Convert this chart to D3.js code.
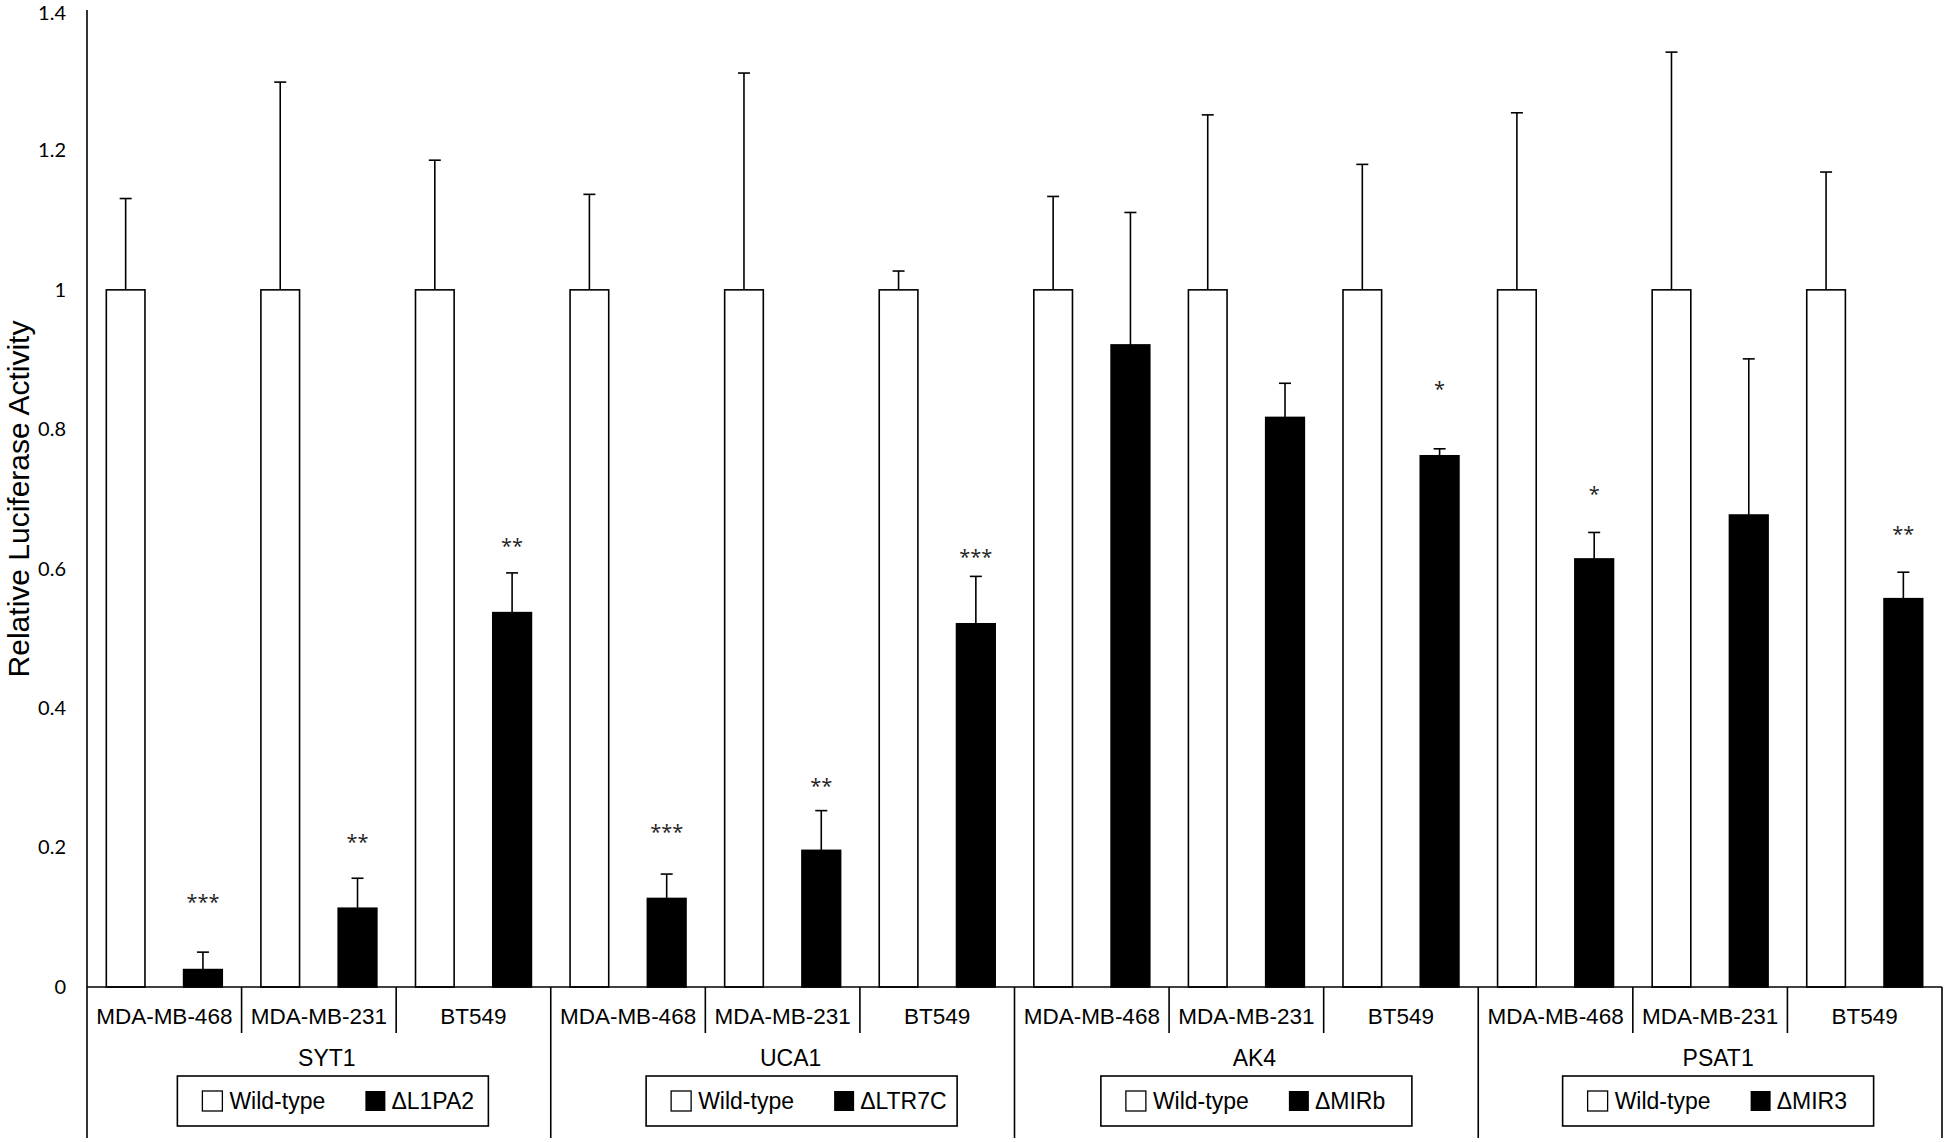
<!DOCTYPE html>
<html>
<head>
<meta charset="utf-8">
<script src="https://cdn.jsdelivr.net/npm/d3@7"></script>
<style>
  body { margin: 0; background: #fff; }
  svg { display: block; }
</style>
</head>
<body>
<svg id="chart" width="1946" height="1142"></svg>
<script>
// data
const genes = ['SYT1', 'UCA1', 'AK4', 'PSAT1'];
const cellLines = ['MDA-MB-468', 'MDA-MB-231', 'BT549'];
const deletions = ['\u0394L1PA2', '\u0394LTR7C', '\u0394MIRb', '\u0394MIR3'];
const wtMean = [1, 1, 1, 1, 1, 1, 1, 1, 1, 1, 1, 1];
const wtErr = [0.131, 0.298, 0.186, 0.137, 0.311, 0.027, 0.134, 0.251, 0.180, 0.254, 0.341, 0.169];
const delMean = [0.025, 0.113, 0.537, 0.127, 0.196, 0.521, 0.921, 0.817, 0.762, 0.614, 0.677, 0.557];
const delErr = [0.025, 0.043, 0.057, 0.035, 0.057, 0.068, 0.190, 0.049, 0.010, 0.038, 0.224, 0.038];
const sig = ['***', '**', '**', '***', '**', '***', '', '', '*', '*', '', '**'];
const sigLevel = [0.126, 0.212, 0.637, 0.227, 0.293, 0.621, null, null, 0.862, 0.712, null, 0.654];
const yTicks = [0, 0.2, 0.4, 0.6, 0.8, 1, 1.2, 1.4];

const svg = d3.select('#chart');
const left = 87, right = 1942, zeroY = 987, topY = 11, bottomY = 1138;
const sans = '"Liberation Sans", Arial, sans-serif';
const tickFont = 'Lato, "Open Sans", sans-serif';
// each gene panel had its own legend, not quite centred under it
const legendShift = [14, 19, 10, 8];

// one row per gene x cell line
const rows = d3.range(genes.length * cellLines.length).map(i => ({
	i: i,
	gene: Math.floor(i / cellLines.length),
	cell: cellLines[i % cellLines.length],
	wt: wtMean[i], wtE: wtErr[i],
	del: delMean[i], delE: delErr[i],
	sig: sig[i], sigY: sigLevel[i]
}));

const x0 = d3.scaleBand().domain(rows.map(d => d.i)).range([left, right]);
const x1 = d3.scaleBand().domain(['wt', 'del']).range([0, x0.bandwidth()])
	.paddingInner(0.5).paddingOuter(0.25);
const y = d3.scaleLinear().domain([0, 1.4]).range([zeroY, topY]);

// y axis labels (no ticks, no domain)
const yAxis = svg.append('g')
	.attr('transform', 'translate(' + left + ',0)')
	.call(d3.axisLeft(y).tickValues(yTicks).tickSize(0).tickPadding(21)
		.tickFormat(d => String(+d.toFixed(1))));
yAxis.select('.domain').remove();
yAxis.selectAll('text')
	.attr('font-family', tickFont)
	.attr('font-size', 20)
	.attr('fill', '#000');
// keep the top label inside the frame
yAxis.selectAll('.tick').filter(d => d === 1.4).select('text').attr('dy', '0.42em');

svg.append('text')
	.attr('transform', 'translate(18,' + ((zeroY + topY) / 2) + ') rotate(-90)')
	.attr('text-anchor', 'middle')
	.attr('dy', '0.35em')
	.attr('font-family', sans)
	.attr('font-size', 30)
	.text('Relative Luciferase Activity');

// bars
const cat = svg.append('g').selectAll('g')
	.data(rows)
	.enter().append('g')
		.attr('transform', d => 'translate(' + x0(d.i) + ',0)');

const bw = x1.bandwidth();

function errBar(sel, key, mean, err) {
	const cx = x1(key) + bw / 2;
	sel.append('line')
		.attr('x1', cx).attr('x2', cx)
		.attr('y1', d => y(d[mean])).attr('y2', d => y(d[mean] + d[err]))
		.attr('stroke', '#000').attr('stroke-width', 1.6);
	sel.append('line')
		.attr('x1', cx - 6).attr('x2', cx + 6)
		.attr('y1', d => y(d[mean] + d[err])).attr('y2', d => y(d[mean] + d[err]))
		.attr('stroke', '#000').attr('stroke-width', 1.6);
}

cat.append('rect')
	.attr('x', x1('wt')).attr('width', bw)
	.attr('y', d => y(d.wt)).attr('height', d => y(0) - y(d.wt))
	.attr('fill', '#fff').attr('stroke', '#000').attr('stroke-width', 1.6);
errBar(cat, 'wt', 'wt', 'wtE');

cat.append('rect')
	.attr('x', x1('del')).attr('width', bw)
	.attr('y', d => y(d.del)).attr('height', d => y(0) - y(d.del))
	.attr('fill', '#000').attr('stroke', '#000').attr('stroke-width', 1.6);
errBar(cat, 'del', 'del', 'delE');

cat.filter(d => d.sig)
	.append('text')
		.attr('x', x1('del') + bw / 2)
		.attr('y', d => y(d.sigY) + 10)
		.attr('text-anchor', 'middle')
		.attr('font-family', '"Open Sans", sans-serif')
		.attr('font-size', 20)
		.attr('fill', '#222')
		.text(d => d.sig);

// category axis
const axis = svg.append('g').attr('stroke', '#000').attr('stroke-width', 1.6);
axis.append('line')
	.attr('x1', left).attr('x2', right).attr('y1', zeroY).attr('y2', zeroY);
axis.append('line')
	.attr('x1', left).attr('x2', left).attr('y1', topY - 1).attr('y2', bottomY);
axis.append('line')
	.attr('x1', right).attr('x2', right).attr('y1', zeroY).attr('y2', bottomY);

rows.forEach(d => {
	if (d.i === 0) return;
	const xx = x0(d.i);
	const groupEdge = d.i % cellLines.length === 0;
	axis.append('line')
		.attr('x1', xx).attr('x2', xx)
		.attr('y1', zeroY).attr('y2', groupEdge ? bottomY : 1033);
});

svg.append('g').selectAll('text')
	.data(rows)
	.enter().append('text')
		.attr('x', d => x0(d.i) + x0.bandwidth() / 2)
		.attr('y', 1016)
		.attr('dy', '0.35em')
		.attr('text-anchor', 'middle')
		.attr('font-family', sans)
		.attr('font-size', 22.5)
		.text(d => d.cell);

// gene labels and per-gene legends
const span = x0.bandwidth() * cellLines.length;
genes.forEach((g, gi) => {
	const gc = x0(gi * cellLines.length) + span / 2;

	svg.append('text')
		.attr('x', gc + 8).attr('y', 1058)
		.attr('dy', '0.35em')
		.attr('text-anchor', 'middle')
		.attr('font-family', sans)
		.attr('font-size', 23)
		.text(g);

	const lx = gc + legendShift[gi] - 155.5, ly = 1076;
	const lg = svg.append('g').attr('transform', 'translate(' + lx + ',' + ly + ')');
	lg.append('rect')
		.attr('width', 311).attr('height', 50)
		.attr('fill', '#fff').attr('stroke', '#000').attr('stroke-width', 1.6);
	lg.append('rect')
		.attr('x', 25).attr('y', 15).attr('width', 20).attr('height', 20)
		.attr('fill', '#fff').attr('stroke', '#000').attr('stroke-width', 1.3);
	lg.append('text')
		.attr('x', 52).attr('y', 25).attr('dy', '0.35em')
		.attr('font-family', sans).attr('font-size', 23)
		.text('Wild-type');
	lg.append('rect')
		.attr('x', 188).attr('y', 15).attr('width', 20).attr('height', 20)
		.attr('fill', '#000');
	lg.append('text')
		.attr('x', 214).attr('y', 25).attr('dy', '0.35em')
		.attr('font-family', sans).attr('font-size', 23)
		.text(deletions[gi]);
});
</script>
</body>
</html>
